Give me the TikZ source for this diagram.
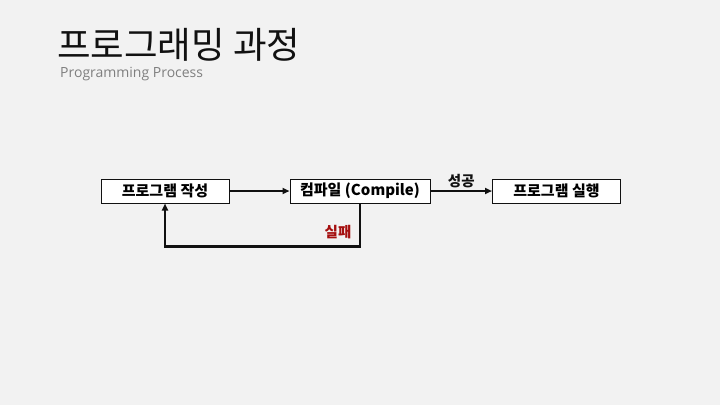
\documentclass[tikz,border=0pt]{standalone}
\usepackage{fontspec}
\setmainfont{Noto Sans CJK KR}
\newfontfamily\latinfont{Open Sans}
\usetikzlibrary{arrows.meta}
\definecolor{paper}{HTML}{F2F2F2}
\definecolor{ink}{HTML}{111111}
\definecolor{subgray}{HTML}{7F7F7F}
\definecolor{failred}{HTML}{A50F0F}

\begin{document}
\begin{tikzpicture}[x=1pt,y=-1pt,>={Triangle[length=7pt,width=6pt]},
                    stepbox/.style={draw=ink,fill=white,line width=1pt,
                      minimum width=128pt,minimum height=24pt,inner sep=0pt,
                      font=\fontsize{15}{17}\selectfont\bfseries},
                    flow/.style={->,line width=2.2pt,ink},
                    tag/.style={font=\fontsize{14.5}{16}\selectfont\bfseries}]
  % page and headings
  \fill[paper] (0,0) rectangle (720,405);
  \useasboundingbox (0,0) rectangle (720,405);
  \node[anchor=west,text=ink,font=\fontsize{36.5}{40}\selectfont,inner sep=0pt]
    (title) at (57,45) {프로그래밍 과정};
  \node[anchor=west,text=subgray,font=\latinfont\fontsize{14}{16}\selectfont,inner sep=0pt]
    (subtitle) at (60,74) {Programming Process};

  % the three steps
  \node[stepbox] (write) at (165,191) {프로그램 작성};
  \node[stepbox,minimum width=140pt] (compile) at (360,191) {컴파일 (Compile)};
  \node[stepbox] (run) at (556.5,191) {프로그램 실행};

  \draw[flow] (write) -- (compile);
  \draw[flow] (compile) -- node[above,tag,text=ink,yshift=-1pt] (ok) {성공} (run);
  \draw[flow] (compile.south) -- ++(0,43) coordinate (back)
    -| (write.south);
  \node[tag,text=failred] (fail) at (338,232) {실패};
\end{tikzpicture}
\end{document}
